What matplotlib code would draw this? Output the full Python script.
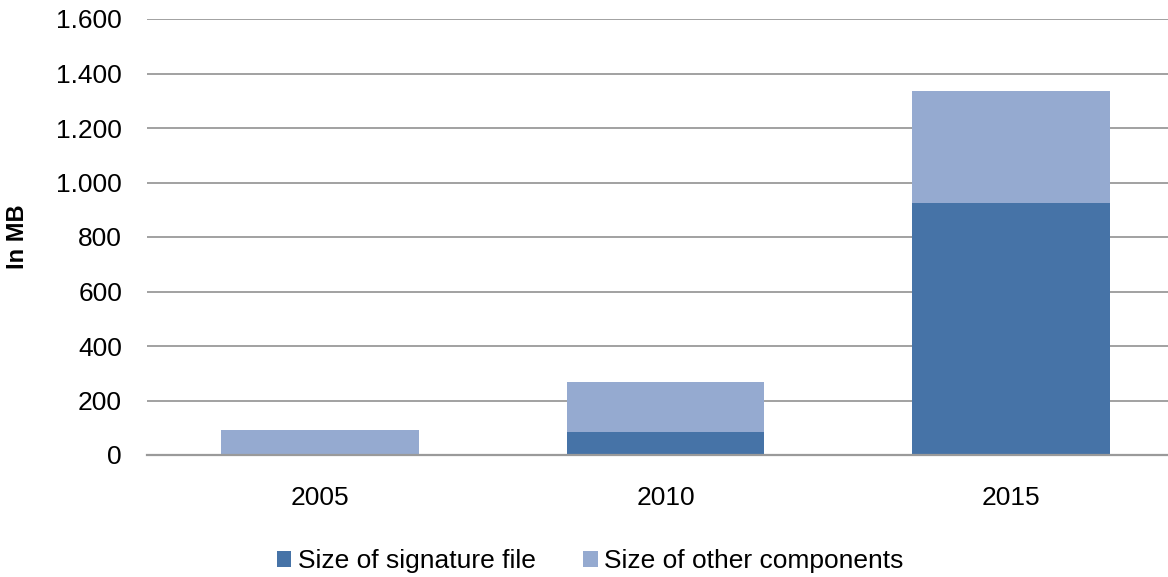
import numpy as np
import matplotlib
matplotlib.use('Agg')
import matplotlib.pyplot as plt

# データ
years = ['2005', '2010', '2015']
signature_mb = [1, 84, 926]
other_mb = [91, 184, 411]
yticks = [0, 200, 400, 600, 800, 1000, 1200, 1400, 1600]
ytick_labels = ['0', '200', '400', '600', '800', '1.000', '1.200', '1.400', '1.600']

plt.rcParams['font.family'] = ['Liberation Sans', 'DejaVu Sans']

fig = plt.figure(figsize=(11.68, 5.77), dpi=100)
ax = fig.add_axes([147 / 1168, 1 - 455 / 577, 1 - 147 / 1168, (455 - 19) / 577])

x = np.arange(len(years))
ax.bar(x, signature_mb, width=0.572, color='#4673A7', label='Size of signature file', zorder=3)
ax.bar(x, other_mb, width=0.572, bottom=signature_mb, color='#95AAD0',
       label='Size of other components', zorder=3)

ax.set_xlim(-0.5, 2.454)
ax.set_ylim(0, 1600)
ax.set_yticks(yticks)
ax.set_yticklabels(ytick_labels)
ax.set_xticks(x)
ax.set_xticklabels(years)

ax.yaxis.grid(True, color='#878787', linewidth=1.1, zorder=0)
for s in ['top', 'right', 'left']:
    ax.spines[s].set_visible(False)
ax.spines['bottom'].set_color('#9a9a9a')
ax.spines['bottom'].set_linewidth(1.6)
ax.spines['bottom'].set_zorder(4)
ax.tick_params(axis='both', length=0, labelsize=19, colors='#000000')
ax.tick_params(axis='y', pad=18)
ax.tick_params(axis='x', pad=22)

ax.set_ylabel('In MB', fontsize=17, fontweight='bold')
ax.yaxis.set_label_coords(-118 / 1021, 0.5)

fig.legend(loc='center', bbox_to_anchor=(590 / 1168, 1 - 561 / 577), ncol=2,
           frameon=False, fontsize=19, handlelength=0.55, handleheight=0.55,
           handletextpad=0.25, columnspacing=1.8)

fig.savefig('out.png', dpi=100)
